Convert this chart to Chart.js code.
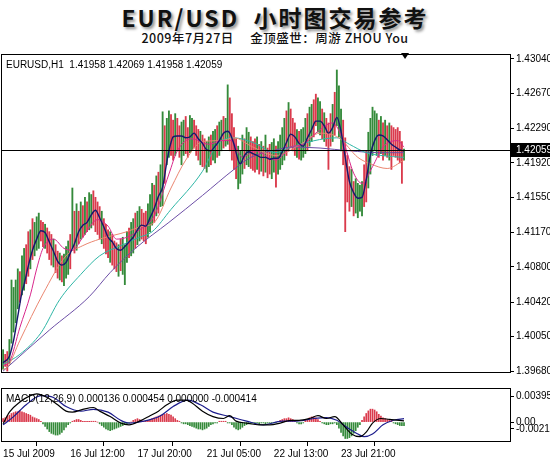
<!DOCTYPE html>
<html>
<head>
<meta charset="utf-8">
<script src="https://cdn.jsdelivr.net/npm/chart.js@4.4.0/dist/chart.umd.min.js"></script>
<style>
  body { margin: 0; width: 550px; height: 463px; background: #fff; overflow: hidden; position: relative; }
  #title { position: absolute; top: 1px; left: 0; width: 550px; text-align: center;
           font: bold 23px "Noto Sans CJK SC", sans-serif; line-height: 32px; letter-spacing: 2px;
           color: #111; text-shadow: 2px 2px 3px #8a8a8a; }
  #sub { position: absolute; top: 30px; left: 0; width: 550px; text-align: center;
         font: 500 12.5px "Noto Sans CJK SC", sans-serif; line-height: 16px; color: #111; letter-spacing: 0.5px; }
  #main { position: absolute; left: 0; top: 46px; }
  #macd { position: absolute; left: 0; top: 380px; }
</style>
</head>
<body>
<div id="title">EUR/USD&nbsp; 小时图交易参考</div>
<div id="sub">2009年7月27日&nbsp;&nbsp;&nbsp;&nbsp; 金顶盛世：周游 ZHOU You</div>
<canvas id="main" width="550" height="334"></canvas>
<canvas id="macd" width="550" height="83"></canvas>
<script>
// H1 bars, index 0 = 15 Jul 04:00
const lows = [
  1.3970, 1.3973, 1.3968, 1.3976, 1.3998, 1.4010, 1.4020, 1.4035, 1.4042, 1.4050,
  1.4055, 1.4062, 1.4070, 1.4078, 1.4088, 1.4092, 1.4098, 1.4100, 1.4108, 1.4102,
  1.4100, 1.4095, 1.4088, 1.4082, 1.4080, 1.4074, 1.4068, 1.4066, 1.4064, 1.4060,
  1.4068, 1.4072, 1.4078, 1.4100, 1.4095, 1.4098, 1.4105, 1.4110, 1.4112, 1.4115,
  1.4118, 1.4120, 1.4122, 1.4125, 1.4118, 1.4115, 1.4110, 1.4105, 1.4100, 1.4094,
  1.4090, 1.4085, 1.4082, 1.4078, 1.4075, 1.4070, 1.4076, 1.4072, 1.4061, 1.4085,
  1.4090, 1.4092, 1.4095, 1.4100, 1.4104, 1.4108, 1.4110, 1.4108, 1.4105, 1.4112,
  1.4118, 1.4125, 1.4128, 1.4135, 1.4138, 1.4145, 1.4146, 1.4170, 1.4190, 1.4198,
  1.4200, 1.4195, 1.4200, 1.4205, 1.4198, 1.4190, 1.4200, 1.4202, 1.4198, 1.4203,
  1.4206, 1.4208, 1.4200, 1.4195, 1.4190, 1.4188, 1.4186, 1.4182, 1.4188, 1.4190,
  1.4195, 1.4192, 1.4198, 1.4200, 1.4205, 1.4208, 1.4210, 1.4212, 1.4205, 1.4195,
  1.4185, 1.4175, 1.4164, 1.4170, 1.4180, 1.4186, 1.4190, 1.4188, 1.4186, 1.4184,
  1.4182, 1.4185, 1.4180, 1.4183, 1.4178, 1.4182, 1.4176, 1.4180, 1.4175, 1.4182,
  1.4166, 1.4180, 1.4185, 1.4190, 1.4195, 1.4200, 1.4205, 1.4208, 1.4205, 1.4200,
  1.4198, 1.4196, 1.4195, 1.4198, 1.4202, 1.4205, 1.4210, 1.4215, 1.4220, 1.4232,
  1.4225, 1.4222, 1.4218, 1.4215, 1.4210, 1.4185, 1.4210, 1.4215, 1.4222, 1.4232,
  1.4220, 1.4205, 1.4190, 1.4118, 1.4150, 1.4140, 1.4145, 1.4135, 1.4138, 1.4133,
  1.4140, 1.4135, 1.4145, 1.4150, 1.4165, 1.4180, 1.4200, 1.4205, 1.4200, 1.4198,
  1.4202, 1.4195, 1.4200, 1.4198, 1.4195, 1.4185, 1.4200, 1.4198, 1.4195, 1.4192,
  1.4170, 1.4195
];
const highs = [
  1.3991, 1.3986, 1.3989, 1.4002, 1.4066, 1.4058, 1.4066, 1.4078, 1.4075, 1.4092,
  1.4100, 1.4104, 1.4118, 1.4120, 1.4132, 1.4128, 1.4134, 1.4138, 1.4130, 1.4128,
  1.4126, 1.4122, 1.4118, 1.4115, 1.4110, 1.4104, 1.4097, 1.4095, 1.4092, 1.4094,
  1.4102, 1.4108, 1.4115, 1.4165, 1.4140, 1.4148, 1.4140, 1.4150, 1.4146, 1.4155,
  1.4150, 1.4160, 1.4158, 1.4162, 1.4155, 1.4150, 1.4145, 1.4140, 1.4132, 1.4126,
  1.4120, 1.4118, 1.4115, 1.4108, 1.4106, 1.4104, 1.4110, 1.4112, 1.4104, 1.4118,
  1.4122, 1.4128, 1.4132, 1.4138, 1.4140, 1.4145, 1.4142, 1.4138, 1.4140, 1.4148,
  1.4158, 1.4170, 1.4168, 1.4178, 1.4182, 1.4190, 1.4247, 1.4232, 1.4240, 1.4248,
  1.4244, 1.4238, 1.4245, 1.4240, 1.4232, 1.4236, 1.4238, 1.4242, 1.4230, 1.4243,
  1.4240, 1.4238, 1.4232, 1.4228, 1.4226, 1.4222, 1.4218, 1.4215, 1.4220, 1.4222,
  1.4226, 1.4228, 1.4232, 1.4236, 1.4238, 1.4242, 1.4240, 1.4276, 1.4262, 1.4245,
  1.4230, 1.4218, 1.4210, 1.4205, 1.4222, 1.4218, 1.4230, 1.4225, 1.4220, 1.4215,
  1.4218, 1.4220, 1.4212, 1.4215, 1.4210, 1.4222, 1.4208, 1.4212, 1.4214, 1.4218,
  1.4210, 1.4215, 1.4222, 1.4230, 1.4240, 1.4248, 1.4257, 1.4250, 1.4240, 1.4235,
  1.4228, 1.4226, 1.4228, 1.4230, 1.4240, 1.4245, 1.4252, 1.4255, 1.4260, 1.4266,
  1.4262, 1.4258, 1.4250, 1.4246, 1.4240, 1.4235, 1.4245, 1.4255, 1.4268, 1.4292,
  1.4275, 1.4250, 1.4238, 1.4219, 1.4200, 1.4188, 1.4185, 1.4172, 1.4175, 1.4170,
  1.4168, 1.4172, 1.4190, 1.4205, 1.4225, 1.4240, 1.4252, 1.4248, 1.4245, 1.4238,
  1.4242, 1.4235, 1.4238, 1.4232, 1.4235, 1.4232, 1.4230, 1.4228, 1.4230, 1.4226,
  1.4215, 1.4207
];
// u = bull bar (green), d = bear bar (red)
const dirs = [
  'udduuuuudu', 'udduduuudd', 'uddduddudu', 'uududududu', 'duudddduddd'.slice(0, 10),
  'duddduduuu', 'duuduuddduu'.slice(0, 10), 'uududuuduu', 'ddudduuddu', 'udddudduud',
  'uuduuduudd', 'dduuuduudd', 'dudududduu', 'duuuududdd',
  'uduuuduudd', 'uududddudu', 'uudddduduu', 'uudduuuuud', 'udududdddd', 'du'
].join('').split('');

const lastBar = [1.41958, 1.42069, 1.41958, 1.42059];
const lastPrice = 1.42059;
const priceTicks = [1.43040, 1.42670, 1.42290, 1.41920, 1.41550, 1.41170, 1.40800, 1.40420, 1.40050, 1.39680];

// moving averages, read at turning points (bar index, price)
const fastIdx = [0, 3, 5, 7, 9, 10, 12, 14, 16, 18, 20, 22, 24, 26, 28, 30, 32, 34, 36, 38, 40, 42, 44, 46, 48, 50,
  52, 54, 56, 58, 60, 62, 64, 66, 68, 70, 72, 74, 76, 78, 79, 80, 81, 83, 85, 87, 89, 91, 93, 95, 97, 99, 101,
  103, 105, 107, 108, 110, 112, 113, 115, 117, 119, 121, 123, 125, 127, 129, 131, 133, 135, 137, 139, 141, 143,
  145, 147, 149, 151, 153, 155, 157, 159, 161, 163, 165, 167, 169, 171, 173, 175, 177, 179, 181, 183, 185, 187, 189, 191];
const fastMa = [1.3977, 1.3984, 1.4001, 1.4027, 1.4053, 1.4061, 1.4081, 1.4098, 1.4110, 1.4119, 1.4117, 1.4107,
  1.4097, 1.4086, 1.4082, 1.4085, 1.4095, 1.4105, 1.4118, 1.4125, 1.4128, 1.4136, 1.4141, 1.4133, 1.4123, 1.4112,
  1.4107, 1.4100, 1.4098, 1.4102, 1.4107, 1.4112, 1.4120, 1.4125, 1.4124, 1.4133, 1.4143, 1.4156, 1.4166, 1.4193,
  1.4205, 1.4214, 1.4220, 1.4221, 1.4221, 1.4219, 1.4220, 1.4224, 1.4218, 1.4213, 1.4206, 1.4205, 1.4210, 1.4216,
  1.4224, 1.4226, 1.4224, 1.4212, 1.4195, 1.4191, 1.4200, 1.4204, 1.4202, 1.4200, 1.4198, 1.4198, 1.4196, 1.4197,
  1.4197, 1.4204, 1.4214, 1.4223, 1.4220, 1.4213, 1.4210, 1.4219, 1.4228, 1.4237, 1.4237, 1.4232, 1.4224, 1.4230,
  1.4241, 1.4226, 1.4198, 1.4172, 1.4160, 1.4154, 1.4155, 1.4174, 1.4201, 1.4216, 1.4222, 1.4221, 1.4217, 1.4212,
  1.4209, 1.4206, 1.4205];
const pinkIdx = [0, 3, 8, 13, 16, 19, 24, 29, 33, 38, 45, 50, 54, 59, 65, 72, 79, 83, 90, 98, 104, 109, 114, 120,
  130, 137, 143, 150, 157, 162, 167, 171, 176, 181, 188, 191];
const pinkMa = [1.3974, 1.3978, 1.4015, 1.4050, 1.4078, 1.4100, 1.4110, 1.4100, 1.4098, 1.4112, 1.4131, 1.4124,
  1.4110, 1.4112, 1.4120, 1.4135, 1.4180, 1.4205, 1.4218, 1.4212, 1.4216, 1.4216, 1.4198, 1.4205, 1.4195, 1.4209,
  1.4212, 1.4226, 1.4235, 1.4216, 1.4181, 1.4170, 1.4188, 1.4209, 1.4216, 1.4209];
const salmonIdx = [0, 2, 8, 19, 30, 38, 46, 59, 65, 72, 80, 87, 95, 104, 110, 119, 130, 141, 151, 160, 169, 175, 183, 191];
const salmonMa = [1.3970, 1.3972, 1.4001, 1.4051, 1.4092, 1.4103, 1.4110, 1.4118, 1.4123, 1.4128, 1.4165, 1.4195,
  1.4215, 1.4216, 1.4219, 1.4209, 1.4200, 1.4211, 1.4224, 1.4219, 1.4198, 1.4191, 1.4186, 1.4195];
const tealIdx = [0, 8, 18, 27, 37, 46, 56, 65, 71, 80, 95, 102, 110, 119, 130, 137, 159, 165, 173, 180, 191];
const tealMa = [1.3975, 1.3986, 1.4009, 1.4045, 1.4072, 1.4092, 1.4103, 1.4112, 1.4118, 1.4142, 1.4183, 1.4212,
  1.4219, 1.4214, 1.4203, 1.4209, 1.4219, 1.4212, 1.4203, 1.4200, 1.4198];
const purpleIdx = [0, 22, 41, 51, 63, 79, 95, 110, 118, 130, 137, 151, 165, 180, 191];
const purpleMa = [1.3968, 1.4012, 1.4048, 1.4074, 1.4100, 1.4128, 1.4157, 1.4185, 1.4198, 1.4206, 1.4209, 1.4208,
  1.4205, 1.4203, 1.4203];

// MACD(12,26,9)
const macdLegend = [0.000136, 0.000454, 0.000000, -0.000414];
const macdTicks = [0.003953, 0, -0.00219];
const hist = [
  0.0004, 0.0005, 0.0007, 0.0008, 0.0010, 0.0011, 0.0012, 0.0012, 0.0013, 0.0012,
  0.0011, 0.0010, 0.0009, 0.0008, 0.0006, 0.0005, 0.0004, 0.0003, 0.0001, -0.0002,
  -0.0005, -0.0008, -0.0011, -0.0013, -0.0014, -0.0015, -0.0015, -0.0014, -0.0012, -0.0009,
  -0.0006, -0.0003, -0.0001, 0.0001, 0.0002, 0.0003, 0.0003, 0.0002, 0.0001, 0.0001,
  0.0001, 0.0001, 0.0001, 0.0001, 0.0001, 0.0000, -0.0002, -0.0004, -0.0006, -0.0008,
  -0.0009, -0.0010, -0.0009, -0.0008, -0.0007, -0.0006, -0.0005, -0.0004, -0.0003, -0.0002,
  -0.0001, 0.0000, 0.0002, 0.0003, 0.0004, 0.0003, 0.0002, 0.0001, 0.0001, 0.0002,
  0.0003, 0.0004, 0.0005, 0.0006, 0.0007, 0.0008, 0.0009, 0.0009, 0.0010, 0.0009,
  0.0008, 0.0006, 0.0004, 0.0002, 0.0001, -0.0001, -0.0002, -0.0002, -0.0003, -0.0004,
  -0.0005, -0.0006, -0.0007, -0.0008, -0.0008, -0.0009, -0.0008, -0.0007, -0.0005, -0.0003,
  -0.0002, -0.0001, -0.0001, 0.0001, 0.0001, 0.0001, 0.0001, -0.0001, -0.0001, -0.0003,
  -0.0006, -0.0008, -0.0009, -0.0008, -0.0006, -0.0004, -0.0003, -0.0002, -0.0002, -0.0001,
  -0.0002, -0.0001, -0.0002, -0.0001, -0.0001, -0.0002, -0.0001, -0.0001, -0.0001, -0.0001,
  -0.0001, 0.0001, 0.0002, 0.0003, 0.0004, 0.0004, 0.0005, 0.0004, 0.0003, 0.0001,
  -0.0001, -0.0002, -0.0002, -0.0001, 0.0002, 0.0003, 0.0005, 0.0006, 0.0006, 0.0005,
  0.0003, 0.0001, -0.0001, -0.0002, -0.0003, -0.0003, -0.0002, -0.0002, -0.0001, -0.0003,
  -0.0007, -0.0012, -0.0016, -0.0019, -0.0019, -0.0018, -0.0016, -0.0013, -0.0010, -0.0006,
  -0.0003, 0.0002, 0.0006, 0.0010, 0.0013, 0.0015, 0.0015, 0.0014, 0.0012, 0.0009,
  0.0007, 0.0005, 0.0004, 0.0003, 0.0003, 0.0002, -0.0001, -0.0002, -0.0003, -0.0004,
  -0.0004, -0.0004
];
const macdIdx = [0, 3, 8, 13, 16, 21, 26, 30, 33, 38, 43, 46, 51, 56, 60, 65, 70, 74, 78, 83, 87, 90, 95, 100, 105,
  108, 111, 116, 122, 127, 132, 137, 141, 146, 150, 154, 158, 162, 166, 170, 173, 176, 180, 184, 191];
const macdMain = [-0.0002, 0.00116, 0.00233, 0.00307, 0.00328, 0.00286, 0.00201, 0.00127, 0.00116, 0.00148, 0.00169,
  0.00127, 0.00064, -0.00011, -0.00032, 0.00011, 0.00074, 0.00127, 0.00201, 0.00254, 0.00254, 0.00222, 0.00127,
  0.00064, 0.00042, 0.00074, 0.00011, -0.00011, -0.00032, -0.00032, -0.00011, 0.00021, 0.00021, 0.00042, 0.00074,
  0.00042, 0.00064, -0.00032, -0.00138, -0.00169, -0.00116, -0.00011, 0.00042, 0.00032, 0.00014];
const signalIdx = [0, 5, 11, 18, 24, 30, 37, 43, 50, 56, 60, 67, 75, 81, 88, 94, 100, 108, 116, 124, 133, 140, 148,
  154, 159, 164, 169, 172, 176, 181, 186, 191];
const macdSignal = [-0.00032, 0.00064, 0.00201, 0.00307, 0.00286, 0.0018, 0.00127, 0.00148, 0.00116, 0.00021,
  -0.00011, 0.00011, 0.00074, 0.0018, 0.00254, 0.00201, 0.00116, 0.00064, 0.00011, -0.00032, 0.00011, 0.00011,
  0.00042, 0.00053, 0.00021, -0.00064, -0.00138, -0.00169, -0.00138, -0.00032, 0.00021, 0.00040];

const timeIdx = [0, 32, 64, 97, 129, 161];
const timeLabels = ['15 Jul 2009', '16 Jul 12:00', '17 Jul 20:00', '21 Jul 05:00', '22 Jul 13:00', '23 Jul 21:00'];

const GREEN = '#348a3a';
const RED = '#da3a4c';
const smallFont = { family: '"Liberation Sans", Arial, sans-serif', size: 10 };
const X_MIN = -1, X_MAX = 241.5;

function pts(idx, vals) {
  return idx.map((x, k) => ({ x: x, y: vals[k] }));
}
function maLine(idx, vals, color, width) {
  return {
    type: 'line', data: pts(idx, vals), borderColor: color, borderWidth: width || 1,
    pointRadius: 0, cubicInterpolationMode: 'monotone', order: 1
  };
}

// frame + legend text
const framePlugin = {
  id: 'frame',
  afterDraw(chart, args, opts) {
    const { ctx, chartArea: a } = chart;
    ctx.save();
    ctx.strokeStyle = '#000';
    ctx.lineWidth = 1;
    ctx.strokeRect(a.left + 0.5, a.top + 0.5, a.right - a.left, a.bottom - a.top);
    ctx.fillStyle = '#000';
    ctx.font = '10px "Liberation Sans", Arial, sans-serif';
    ctx.textBaseline = 'middle';
    ctx.fillText(opts.text, a.left + 5, a.top + 11);
    ctx.restore();
  }
};

// current price line, price box and shift marker
const pricePlugin = {
  id: 'price',
  afterDatasetsDraw(chart) {
    const { ctx, chartArea: a, scales } = chart;
    const y = Math.round(scales.y.getPixelForValue(lastPrice)) + 0.5;
    ctx.save();
    ctx.strokeStyle = '#000';
    ctx.lineWidth = 1;
    ctx.beginPath();
    ctx.moveTo(a.left, y);
    ctx.lineTo(a.right, y);
    ctx.stroke();
    ctx.restore();
  },
  afterDraw(chart) {
    const { ctx, chartArea: a, scales } = chart;
    const y = scales.y.getPixelForValue(lastPrice);
    ctx.save();
    ctx.fillStyle = '#000';
    ctx.fillRect(a.right + 1, y - 7, 40, 14);
    ctx.fillStyle = '#fff';
    ctx.font = '10px "Liberation Sans", Arial, sans-serif';
    ctx.textBaseline = 'middle';
    ctx.fillText(lastPrice.toFixed(5), a.right + 6, y);
    const sx = scales.x.getPixelForValue(highs.length - 0.5);
    ctx.fillStyle = '#000';
    ctx.beginPath();
    ctx.moveTo(sx - 4, a.top - 1);
    ctx.lineTo(sx + 4, a.top - 1);
    ctx.lineTo(sx, a.top + 5);
    ctx.closePath();
    ctx.fill();
    ctx.restore();
  }
};

const barData = highs.map((h, i) => ({ x: i, y: [lows[i], h] }));

new Chart(document.getElementById('main'), {
  type: 'bar',
  data: {
    datasets: [
      maLine(fastIdx, fastMa, '#16186e', 1.4),
      maLine(pinkIdx, pinkMa, '#d8288c', 1),
      maLine(salmonIdx, salmonMa, '#ea8670', 1),
      maLine(tealIdx, tealMa, '#2fb6a6', 1),
      maLine(purpleIdx, purpleMa, '#6c4ea6', 1),
      {
        type: 'bar', data: barData, order: 10, barThickness: 1.2,
        backgroundColor: ctx => dirs[ctx.dataIndex] === 'd' ? RED : GREEN
      }
    ]
  },
  options: {
    responsive: false,
    animation: false,
    events: [],
    layout: { padding: { left: 1, top: 2, right: 0, bottom: 2 } },
    plugins: {
      legend: { display: false },
      tooltip: { enabled: false },
      frame: { text: 'EURUSD,H1  ' + lastBar.map(v => v.toFixed(5)).join(' ') }
    },
    scales: {
      x: { type: 'linear', min: X_MIN, max: X_MAX, offset: false, display: false },
      y: {
        position: 'right',
        min: 1.39670, max: 1.43092,
        afterBuildTicks: s => { s.ticks = priceTicks.map(v => ({ value: v })); },
        afterFit: s => { s.width = 40; },
        ticks: { callback: v => v.toFixed(5), font: smallFont, color: '#000', padding: 2 },
        grid: { drawOnChartArea: false, tickLength: 4, color: '#000' },
        border: { display: true, color: '#000' }
      }
    }
  },
  plugins: [framePlugin, pricePlugin]
});

new Chart(document.getElementById('macd'), {
  type: 'bar',
  data: {
    datasets: [
      maLine(macdIdx, macdMain, '#000000', 1.2),
      maLine(signalIdx, macdSignal, '#1c1c8c', 1.2),
      {
        type: 'bar', order: 10, barThickness: 1,
        data: hist.map((v, i) => ({ x: i, y: v })),
        backgroundColor: ctx => ctx.raw && ctx.raw.y < 0 ? GREEN : RED
      }
    ]
  },
  options: {
    responsive: false,
    animation: false,
    events: [],
    layout: { padding: { left: 1, top: 1, right: 0, bottom: 0 } },
    plugins: {
      legend: { display: false },
      tooltip: { enabled: false },
      frame: { text: 'MACD(12,26,9) ' + macdLegend.map(v => v.toFixed(6)).join(' ') }
    },
    scales: {
      x: {
        type: 'linear', min: X_MIN, max: X_MAX, offset: false,
        afterBuildTicks: s => { s.ticks = timeIdx.map(v => ({ value: v })); },
        afterFit: s => { s.height = 22; },
        ticks: {
          callback: (v, i) => timeLabels[i], align: 'start', maxRotation: 0, autoSkip: false,
          font: smallFont, color: '#000', padding: 2
        },
        grid: { drawOnChartArea: false, tickLength: 5, color: '#000' },
        border: { display: true, color: '#000' }
      },
      y: {
        position: 'right',
        min: -0.00219, max: 0.003953,
        // edge labels sit just inside the panel, as in the terminal
        afterBuildTicks: s => {
          const span = s.max - s.min;
          s.ticks = [s.max - 0.16 * span, 0, s.min + 0.23 * span].map(v => ({ value: v }));
        },
        afterFit: s => { s.width = 40; },
        ticks: {
          callback: (v, i) => i === 1 ? '0.00' : String(macdTicks[i]),
          font: smallFont, color: '#000', padding: 2
        },
        grid: { drawOnChartArea: false, tickLength: 4, color: '#000' },
        border: { display: true, color: '#000' }
      }
    }
  },
  plugins: [framePlugin]
});
</script>
</body>
</html>
